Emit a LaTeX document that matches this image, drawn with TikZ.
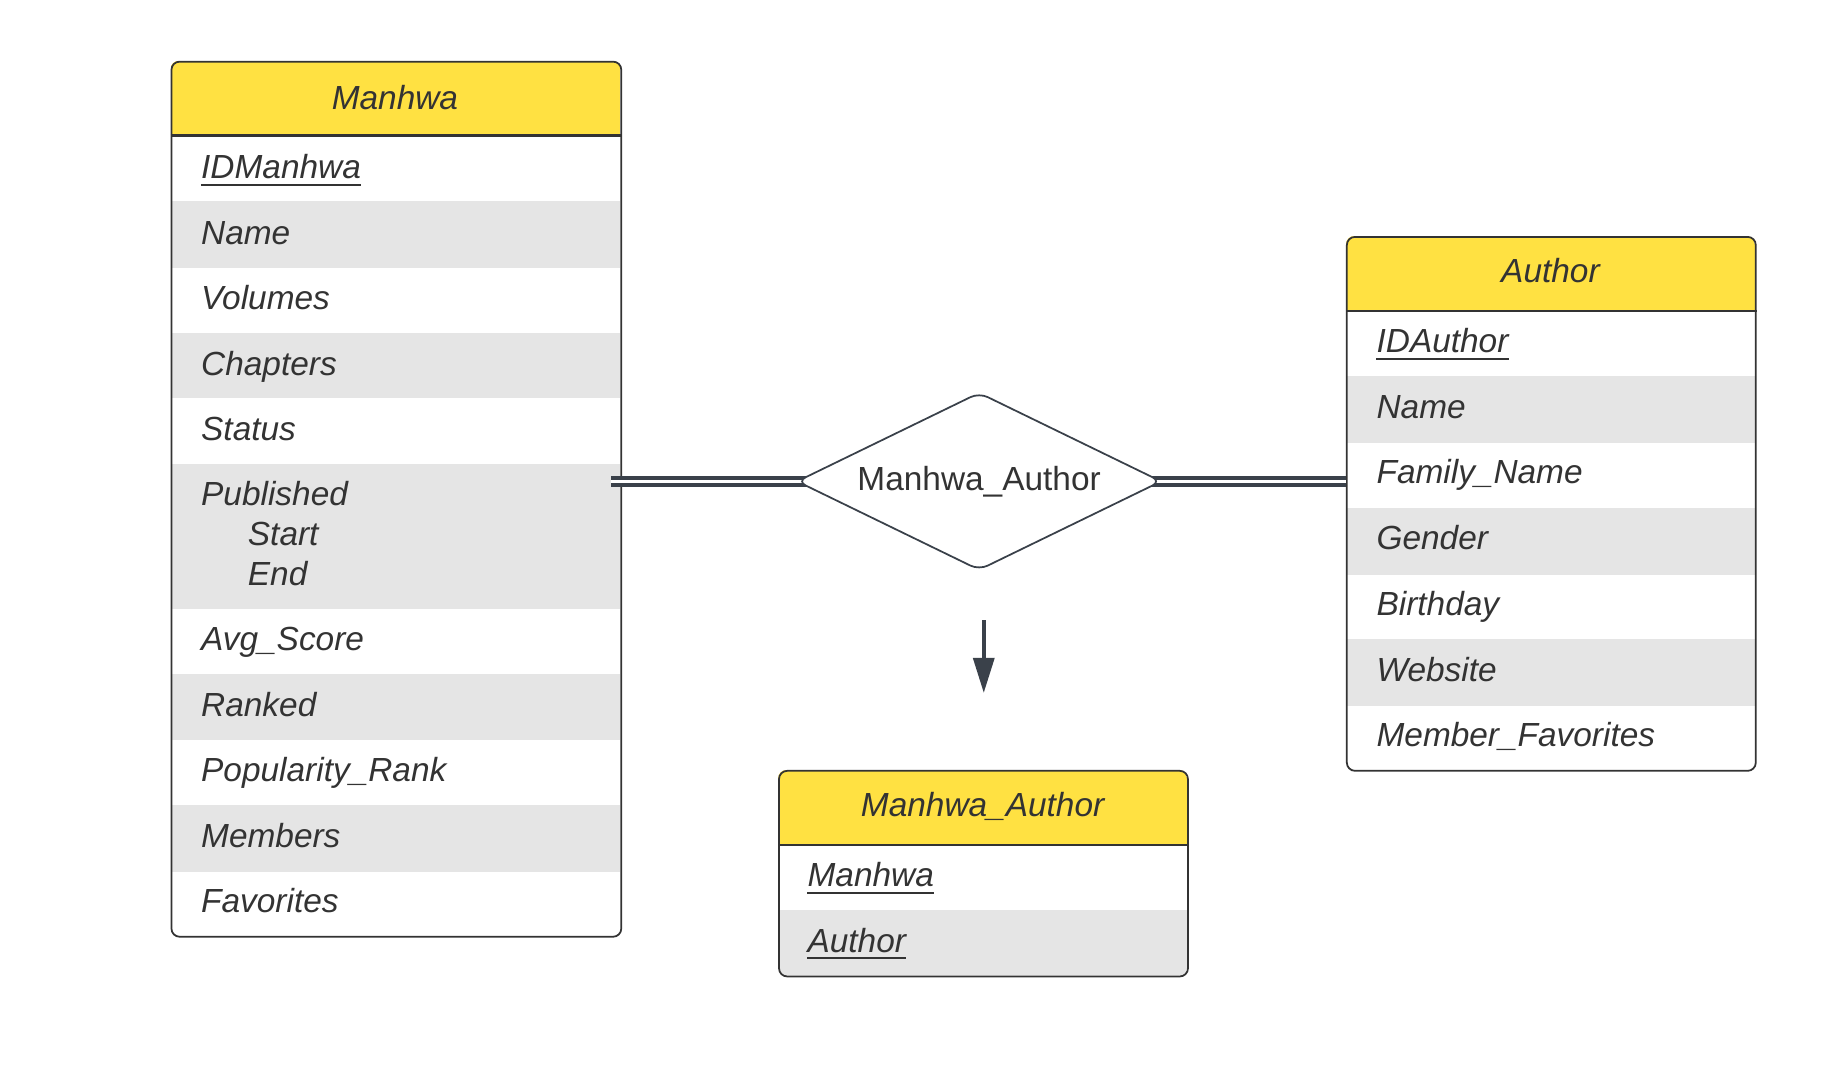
\documentclass[tikz,border=0pt]{standalone}
\usepackage{fontspec}
\setmainfont{Liberation Sans}
\usetikzlibrary{shapes.geometric,arrows.meta}
\definecolor{hdr}{HTML}{FFE142}
\definecolor{rowgray}{HTML}{E5E5E5}
\definecolor{ink}{HTML}{333333}
\definecolor{linie}{HTML}{3A414A}

\begin{document}
\begin{tikzpicture}
		[x=1pt,y=-1pt,
		every node/.style={font=\fontsize{28.6}{34}\selectfont\itshape,text=ink,inner sep=0pt},
		attr/.style={anchor=base west},
		title/.style={anchor=base},
		tablebox/.style={draw=ink,line width=1.5pt,rounded corners=7pt,anchor=north west},
		divider/.style={draw=ink,line width=2pt},
		ul/.style={draw=ink,line width=1.8pt},
		relation/.style={diamond,draw=linie,line width=1.5pt,rounded corners=8pt,fill=white,
			shape aspect=2.07,minimum width=312pt,minimum height=152pt,font=\fontsize{28.6}{34}\selectfont},
		relline/.style={draw=linie,line width=3pt,double=white,double distance=3pt},
		]

		\useasboundingbox (0,0) rectangle (1568,912);

		% Manhwa
		\begin{scope}
			\clip[rounded corners=7pt] (146,52) rectangle (531,801);
			\fill[hdr] (146,52) rectangle (531,116);
			\foreach \a/\b in {172/229,285/341,397/521,577/633,689/746}
				\fill[rowgray] (146,\a) rectangle (531,\b);
		\end{scope}
		\node[tablebox,minimum width=385pt,minimum height=749pt] (manhwa) at (146,52) {};
		\draw[divider] ([yshift=-64pt]manhwa.north west) -- ([yshift=-64pt]manhwa.north east);
		\node[title] (manhwa-t) at (338,94) {Manhwa};
		\node[attr] (m1) at (172,153) {IDManhwa};
		\foreach \n/\t/\y in {m2/Name/199,m3/Volumes/255,m4/Chapters/311,m5/Status/367,
				m6/Published/423,m7/Avg\_Score/547,m8/Ranked/603,m9/Popularity\_Rank/659,
				m10/Members/715,m11/Favorites/771}
			\node[attr] (\n) at (172,\y+10) {\t};
		\node[attr] (m6a) at (212,467) {Start};
		\node[attr] (m6b) at (212,501) {End};
		\draw[ul] ([yshift=-5pt]m1.base west) -- ([yshift=-5pt]m1.base east);

		% Author
		\begin{scope}
			\clip[rounded corners=7pt] (1152,202) rectangle (1502,659);
			\fill[hdr] (1152,202) rectangle (1502,266);
			\foreach \a/\b in {322/379,435/492,547/604}
				\fill[rowgray] (1152,\a) rectangle (1502,\b);
		\end{scope}
		\node[tablebox,minimum width=350pt,minimum height=457pt] (author) at (1152,202) {};
		\draw[divider] ([yshift=-64pt]author.north west) -- ([yshift=-64pt]author.north east);
		\node[title] (author-t) at (1327,242) {Author};
		\node[attr] (a1) at (1178,302) {IDAuthor};
		\foreach \n/\t/\y in {a2/Name/348,a3/Family\_Name/404,a4/Gender/460,
				a5/Birthday/517,a6/Website/573,a7/Member\_Favorites/629}
			\node[attr] (\n) at (1178,\y+10) {\t};
		\draw[ul] ([yshift=-5pt]a1.base west) -- ([yshift=-5pt]a1.base east);

		% Manhwa_Author
		\begin{scope}
			\clip[rounded corners=7pt] (666,659) rectangle (1016,835);
			\fill[hdr] (666,659) rectangle (1016,723);
			\fill[rowgray] (666,779) rectangle (1016,835);
		\end{scope}
		\node[tablebox,minimum width=350pt,minimum height=176pt] (mwa) at (666,659) {};
		\draw[divider] ([yshift=-64pt]mwa.north west) -- ([yshift=-64pt]mwa.north east);
		\node[title] (mwa-t) at (841,699) {Manhwa\_Author};
		\node[attr] (ma1) at (691,759) {Manhwa};
		\node[attr] (ma2) at (691,815) {Author};
		\draw[ul] ([yshift=-5pt]ma1.base west) -- ([yshift=-5pt]ma1.base east);
		\draw[ul] ([yshift=-5pt]ma2.base west) -- ([yshift=-5pt]ma2.base east);

		% Beziehung
		\coordinate (m-link) at (523,412);
		\coordinate (a-link) at (1152,412);
		\draw[relline] (m-link) -- (838,412);
		\draw[relline] (838,412) -- (a-link);
		\node[relation] (rel) at (838,412) {\raisebox{-2pt}{Manhwa\_Author}};

		\coordinate (arr-a) at (842,531);
		\coordinate (arr-b) at (842,593);
		\draw[draw=linie,line width=3pt,-{Triangle[length=30pt,width=18pt]}] (arr-a) -- (arr-b);
	\end{tikzpicture}
\end{document}
